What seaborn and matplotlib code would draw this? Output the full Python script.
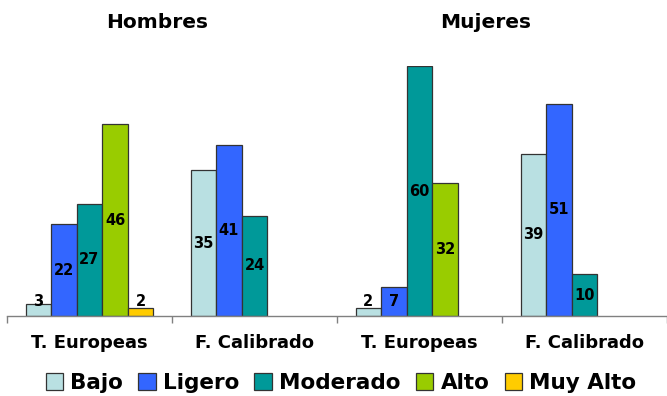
import matplotlib
matplotlib.use("Agg")
import matplotlib.pyplot as plt
import seaborn as sns
import pandas as pd

# Grouping: sex x method
sexes = ["Hombres", "Hombres", "Mujeres", "Mujeres"]
methods = ["T. Europeas", "F. Calibrado", "T. Europeas", "F. Calibrado"]
levels = ["Bajo", "Ligero", "Moderado", "Alto", "Muy Alto"]

# Percentages per activity level (None = not reported)
bajo = [3, 35, 2, 39]
ligero = [22, 41, 7, 51]
moderado = [27, 24, 60, 10]
alto = [46, None, 32, None]
muy_alto = [2, None, None, None]

colors = ["#B9E0E2", "#3366FF", "#009999", "#99CC00", "#FFCC00"]

rows = []
keys = [f"{s}|{m}" for s, m in zip(sexes, methods)]
for lvl, vals in zip(levels, [bajo, ligero, moderado, alto, muy_alto]):
    for k, v in zip(keys, vals):
        if v is not None:
            rows.append({"grupo": k, "nivel": lvl, "valor": v})
df = pd.DataFrame(rows)

sns.set_theme(style="white")
plt.rcParams["font.family"] = ["DejaVu Sans"]
plt.rcParams["font.weight"] = "bold"
plt.rcParams["text.color"] = "black"
plt.rcParams["xtick.color"] = "black"
plt.rcParams["xtick.labelcolor"] = "black"

fig = plt.figure(figsize=(6.67, 3.96), dpi=100)
ax = fig.add_axes([7 / 667, 80 / 396, 660 / 667, 250 / 396])

sns.barplot(data=df, x="grupo", y="valor", hue="nivel", order=keys,
            hue_order=levels, palette=colors, width=0.775,
            edgecolor="#333333", linewidth=0.9, saturation=1,
            errorbar=None, ax=ax)

ax.set_xlim(-0.5, 3.5)
ax.set_ylim(0, 60)
ax.set_xlabel("")
ax.set_ylabel("")
ax.set_yticks([])
for side in ["top", "left", "right"]:
    ax.spines[side].set_visible(False)
ax.spines["bottom"].set_color("#808080")
ax.spines["bottom"].set_linewidth(1.0)

ax.set_xticks(range(len(keys)))
ax.set_xticklabels(methods, fontsize=13, fontweight="bold", color="black")
ax.set_xticks([-0.5, 0.5, 1.5, 2.5, 3.5], minor=True)
ax.tick_params(axis="x", which="major", length=0, pad=13)
ax.tick_params(axis="x", which="minor", length=5, width=1, color="#808080",
               direction="out", bottom=True)

# Value labels: centred in the bar, lifted above very short bars
for container in ax.containers:
    for patch in container.patches:
        h = patch.get_height()
        if h != h or h <= 0:
            continue
        cx = patch.get_x() + patch.get_width() / 2
        ax.text(cx, max(h / 2, 3.6), f"{h:.0f}", ha="center", va="center",
                fontsize=10.5, fontweight="bold", color="black")

fig.text(157 / 667, 1 - 22 / 396, "Hombres", ha="center", va="center",
         fontsize=14.5, fontweight="bold", color="black")
fig.text(486 / 667, 1 - 22 / 396, "Mujeres", ha="center", va="center",
         fontsize=14.5, fontweight="bold", color="black")

handles, labels = ax.get_legend_handles_labels()
if ax.legend_:
    ax.legend_.remove()
leg = fig.legend(handles, labels, loc="center",
                 bbox_to_anchor=(341 / 667, 1 - 383 / 396),
                 ncol=5, frameon=False, handlelength=0.8,
                 handleheight=0.8, handletextpad=0.35, columnspacing=0.7,
                 prop={"weight": "bold", "size": 15.5})
for t in leg.get_texts():
    t.set_color("black")

fig.savefig("out.png", dpi=100)
